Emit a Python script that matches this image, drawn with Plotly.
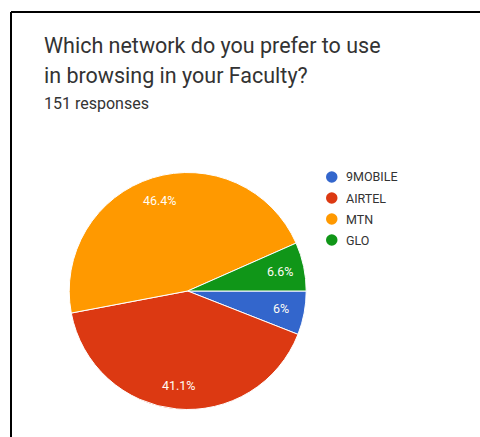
import math
import plotly.graph_objects as go

# Data
categories = ["9MOBILE", "AIRTEL", "MTN", "GLO"]
counts = [9, 62, 70, 10]
colors = ["#3366CC", "#DC3912", "#FF9900", "#109618"]
title_lines = ["Which network do you prefer to use", "in browsing in your Faculty?"]
subtitle = f"{sum(counts)} responses"

W, H = 480, 437

def px(x):
    return x / W

def py(y):
    return 1 - y / H

# Pie geometry (pixels)
cx, cy, r = 187.7, 291.0, 118.5

fig = go.Figure()
fig.add_trace(go.Pie(
    labels=categories,
    values=counts,
    marker=dict(colors=colors, line=dict(color="white", width=1)),
    sort=False,
    direction="clockwise",
    rotation=90,
    textinfo="none",
    hoverinfo="label+percent",
    showlegend=False,
    domain=dict(x=[px(cx - r), px(cx + r)], y=[py(cy + r), py(cy - r)]),
))

annotations = []
shapes = []

# Slice labels along mid-angle
total = sum(counts)
cum = 0
for c in counts:
    frac = c / total
    mid = (cum + frac / 2) * 2 * math.pi
    cum += frac
    pct = round(frac * 100, 1)
    label = (f"{pct:.1f}".rstrip("0").rstrip(".")) + "%"
    lx = cx + 0.8 * r * math.cos(mid)
    ly = cy + 0.8 * r * math.sin(mid)
    annotations.append(dict(
        x=px(lx), y=py(ly), xref="paper", yref="paper",
        text=label, showarrow=False, xanchor="center", yanchor="middle",
        font=dict(family="Roboto", size=12.5, color="#FFFDF5"),
    ))

# Title
for i, line in enumerate(title_lines):
    annotations.append(dict(
        x=px(42), y=py(45 + i * 30), xref="paper", yref="paper",
        text=line, showarrow=False, xanchor="left", yanchor="middle",
        font=dict(family="Roboto", size=21.5, color="#333333"),
    ))
annotations.append(dict(
    x=px(42), y=py(103), xref="paper", yref="paper",
    text=subtitle, showarrow=False, xanchor="left", yanchor="middle",
    font=dict(family="Roboto", size=16, color="#333333"),
))

# Legend
for i, (cat, col) in enumerate(zip(categories, colors)):
    ly = 177 + i * 21
    shapes.append(dict(
        type="circle", xref="paper", yref="paper",
        x0=px(326), x1=px(337.5), y0=py(ly + 5.75), y1=py(ly - 5.75),
        fillcolor=col, line=dict(width=0),
    ))
    annotations.append(dict(
        x=px(344), y=py(ly), xref="paper", yref="paper",
        text=cat, showarrow=False, xanchor="left", yanchor="middle",
        font=dict(family="Roboto", size=12.5, color="#333333"),
    ))

# Border (left and top lines)
shapes.append(dict(type="line", xref="paper", yref="paper",
                   x0=px(11), x1=px(11), y0=py(12), y1=-0.05,
                   line=dict(color="black", width=2)))
shapes.append(dict(type="line", xref="paper", yref="paper",
                   x0=px(11), x1=1.05, y0=py(12), y1=py(12),
                   line=dict(color="black", width=2)))

fig.update_layout(
    width=W, height=H,
    margin=dict(l=0, r=0, t=0, b=0),
    paper_bgcolor="white",
    plot_bgcolor="white",
    annotations=annotations,
    shapes=shapes,
    showlegend=False,
)

fig.write_html("out.html")
